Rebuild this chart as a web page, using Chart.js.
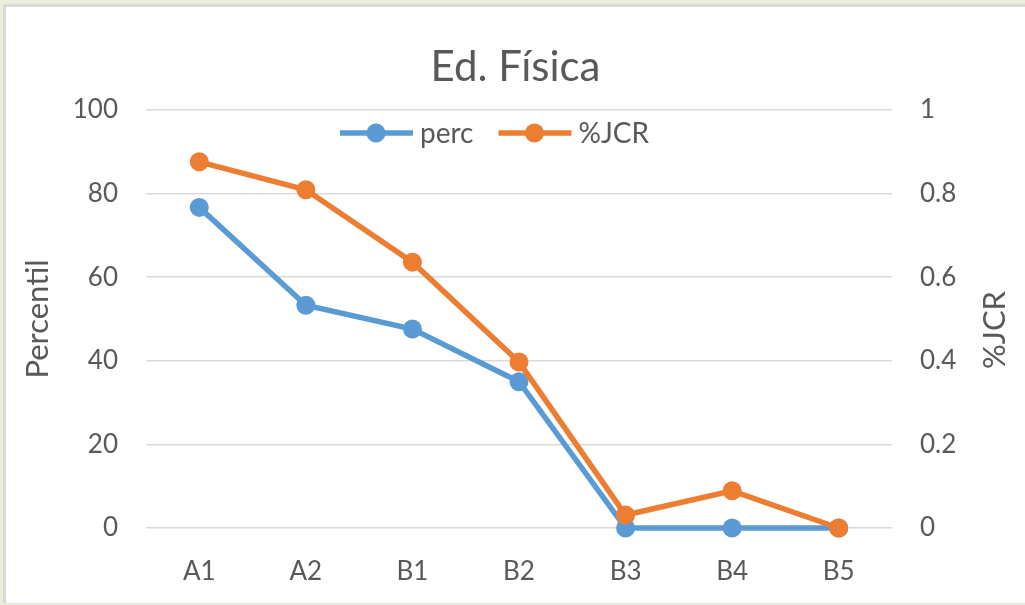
<!DOCTYPE html>
<html>
<head>
<meta charset="utf-8">
<script src="https://cdn.jsdelivr.net/npm/chart.js@4/dist/chart.umd.min.js"></script>
<style>
  html, body { margin: 0; padding: 0; }
  body { width: 1025px; height: 605px; background: #e9efda; position: relative; overflow: hidden; }
  #panel {
    position: absolute; left: 3px; top: 4px; width: 1022px; height: 600px;
    background: #fff; border-left: 3px solid #d9d9d9; border-top: 3px solid #d9d9d9;
    border-bottom: 1px solid #e4e4e4; box-sizing: border-box;
  }
  #grafico { position: absolute; left: 0; top: 1px; }
</style>
</head>
<body>
<div id="panel"><canvas id="grafico" width="1019" height="595"></canvas></div>
<script>
// datos
const categorias = ["A1", "A2", "B1", "B2", "B3", "B4", "B5"];
const perc = [76.7, 53.3, 47.6, 35.0, 0, 0, 0];
const jcr = [0.876, 0.809, 0.636, 0.397, 0.031, 0.089, 0];
const ticksPerc = [0, 20, 40, 60, 80, 100];
const ticksJcr = [0, 0.2, 0.4, 0.6, 0.8, 1];

const gris = "#595959";
const fuente = "Lato, 'Open Sans', sans-serif";

// leyenda dentro del area del grafico (como en Excel)
const leyendaExcel = {
    id: "leyendaExcel",
    afterDraw(chart) {
        const ctx = chart.ctx;
        const y = 125;
        let x = 334;
        ctx.save();
        ctx.font = "28px " + fuente;
        ctx.textBaseline = "middle";
        chart.data.datasets.forEach(ds => {
            ctx.strokeStyle = ds.borderColor;
            ctx.lineWidth = 5.5;
            ctx.beginPath();
            ctx.moveTo(x, y);
            ctx.lineTo(x + 73, y);
            ctx.stroke();
            ctx.fillStyle = ds.borderColor;
            ctx.beginPath();
            ctx.arc(x + 36, y, 9.5, 0, Math.PI * 2);
            ctx.fill();
            ctx.fillStyle = gris;
            ctx.fillText(ds.label, x + 80, y + 1);
            x += 80 + ctx.measureText(ds.label).width + 25;
        });
        // titulo del eje derecho, leido de abajo hacia arriba
        ctx.translate(989, 322);
        ctx.rotate(-Math.PI / 2);
        ctx.textAlign = "center";
        ctx.font = "31px " + fuente;
        ctx.fillText("%JCR", 0, 0);
        ctx.restore();
    }
};

new Chart(document.getElementById("grafico"), {
    type: "line",
    data: {
        labels: categorias,
        datasets: [{
            label: "perc",
            data: perc,
            yAxisID: "y",
            borderColor: "#5b9bd5",
            backgroundColor: "#5b9bd5",
            borderWidth: 5.5,
            pointRadius: 9.5,
            pointBorderWidth: 0,
            clip: false,
            order: 2
        }, {
            label: "%JCR",
            data: jcr,
            yAxisID: "y2",
            borderColor: "#ed7d31",
            backgroundColor: "#ed7d31",
            borderWidth: 5.5,
            pointRadius: 9.5,
            pointBorderWidth: 0,
            clip: false,
            order: 1
        }]
    },
    options: {
        responsive: false,
        animation: false,
        events: [],
        layout: { padding: 0 },
        plugins: {
            legend: { display: false },
            tooltip: { enabled: false },
            title: {
                display: true,
                text: "Ed. Física",
                color: gris,
                font: { family: fuente, size: 42, weight: "normal" },
                padding: { top: 34, bottom: 17.6 }
            }
        },
        scales: {
            x: {
                offset: true,
                grid: { display: false, drawTicks: false },
                border: { display: false },
                ticks: { color: gris, padding: 28, font: { family: fuente, size: 26 } },
                afterFit: s => { s.height = 75; }
            },
            y: {
                position: "left",
                min: 0, max: 100,
                afterBuildTicks: s => { s.ticks = ticksPerc.map(v => ({ value: v })); },
                grid: { color: "#d9d9d9", lineWidth: 1.5, drawTicks: false },
                border: { display: false },
                ticks: { color: gris, padding: 28, font: { family: fuente, size: 26 } },
                title: {
                    display: true, text: "Percentil", color: gris,
                    font: { family: fuente, size: 31 },
                    padding: { top: 13, bottom: 0 }
                },
                afterFit: s => { s.width = 140; }
            },
            y2: {
                position: "right",
                min: 0, max: 1,
                afterBuildTicks: s => { s.ticks = ticksJcr.map(v => ({ value: v })); },
                grid: { display: false, drawTicks: false },
                border: { display: false },
                ticks: {
                    color: gris, padding: 28, font: { family: fuente, size: 26 },
                    callback: v => String(v)
                },
                afterFit: s => { s.width = 133; }
            }
        }
    },
    plugins: [leyendaExcel]
});
</script>
</body>
</html>
